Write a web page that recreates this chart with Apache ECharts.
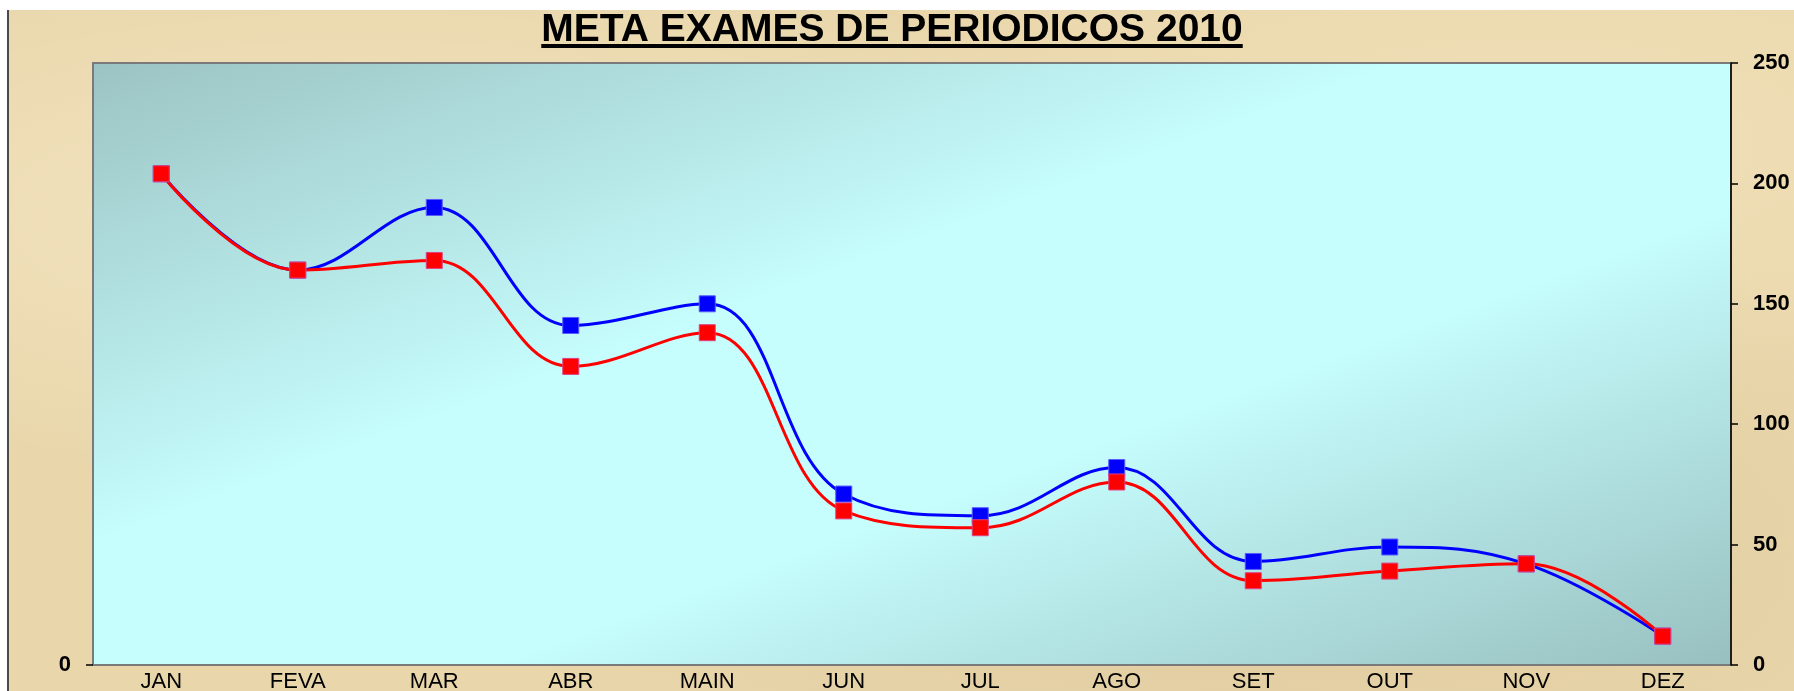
<!DOCTYPE html>
<html>
<head>
<meta charset="utf-8">
<script src="https://cdn.jsdelivr.net/npm/echarts@6/dist/echarts.min.js"></script>
<style>
	html, body { margin: 0; padding: 0; background: #ffffff; }
	#paper {
		position: absolute; left: 7px; top: 10px; right: 0; bottom: 0;
		border-left: 2px solid #4a4a4a;
		background: #e9d6ab;
		background-image:
			radial-gradient(ellipse at 20% 30%, rgba(255,245,215,0.45), rgba(255,245,215,0) 40%),
			radial-gradient(ellipse at 70% 80%, rgba(205,180,135,0.3), rgba(205,180,135,0) 45%),
			radial-gradient(ellipse at 85% 20%, rgba(250,235,200,0.45), rgba(250,235,200,0) 35%);
	}
	#chart { position: absolute; left: 0; top: 0; width: 1794px; height: 691px; }
</style>
</head>
<body>
<div id="paper"></div>
<div id="chart"></div>
<script>
var titleText = 'META EXAMES DE PERIODICOS 2010';
var months = ['JAN', 'FEVA', 'MAR', 'ABR', 'MAIN', 'JUN', 'JUL', 'AGO', 'SET', 'OUT', 'NOV', 'DEZ'];
var blueValues = [204, 164, 190, 141, 150, 71, 62, 82, 43, 49, 42, 12];
var redValues = [204, 164, 168, 124, 138, 64, 57, 76, 35, 39, 42, 12];
var rightTicks = [0, 50, 100, 150, 200, 250];
var leftTicks = [0];

var font = '"Liberation Sans", Arial, sans-serif';

function title_width() {
	var ctx = document.createElement('canvas').getContext('2d');
	ctx.font = 'bold 39px "Liberation Sans", Arial';
	return ctx.measureText(titleText).width;
}

function line_chart() {
	var chart = echarts.init(document.getElementById('chart'));
	var tw = title_width();
	// plot box is 1638 x 602; light band should run corner to corner (bottom-left -> top-right)
	var w = 1638, h = 602, s = w * w + h * h;
	chart.setOption({
		backgroundColor: 'transparent',
		animation: false,
		title: {
			text: titleText,
			left: 892,
			top: 11,
			textAlign: 'center',
			padding: 0,
			textStyle: {
				fontFamily: font,
				fontSize: 39,
				fontWeight: 'bold',
				color: '#000'
			}
		},
		graphic: [{
			type: 'rect',
			shape: { x: 892 - tw / 2, y: 44, width: tw, height: 4 },
			style: { fill: '#000' }
		}],
		grid: {
			left: 93,
			right: 63,
			top: 63,
			bottom: 26,
			outerBoundsMode: 'none',
			show: true,
			borderColor: '#7a7a7a',
			borderWidth: 2,
			backgroundColor: {
				type: 'linear',
				x: 0, y: 0, x2: 2 * h * h / s, y2: 2 * w * w / s,
				colorStops: [
					{ offset: 0, color: '#9cc3c3' },
					{ offset: 0.4, color: '#c6fdfd' },
					{ offset: 0.62, color: '#c6fdfd' },
					{ offset: 1, color: '#98bfbf' }
				]
			}
		},
		xAxis: {
			type: 'category',
			data: months,
			boundaryGap: true,
			axisLine: { show: false },
			axisTick: { show: false },
			axisLabel: {
				margin: 6,
				fontFamily: font,
				fontSize: 22,
				color: '#000'
			}
		},
		yAxis: [{
			type: 'value',
			position: 'right',
			min: 0,
			max: 250,
			interval: 50,
			splitLine: { show: false },
			axisLine: { show: true, lineStyle: { color: '#000', width: 1.5 } },
			axisTick: { show: true, length: 7, lineStyle: { color: '#000', width: 1.5 } },
			axisLabel: {
				margin: 22,
				fontFamily: font,
				fontSize: 22,
				fontWeight: 'bold',
				color: '#000',
				customValues: rightTicks
			}
		}, {
			type: 'value',
			position: 'left',
			min: 0,
			max: 250,
			interval: 50,
			splitLine: { show: false },
			axisLine: { show: false },
			axisTick: { show: true, length: 7, customValues: leftTicks, lineStyle: { color: '#000', width: 1.5 } },
			axisLabel: {
				margin: 22,
				fontFamily: font,
				fontSize: 22,
				fontWeight: 'bold',
				color: '#000',
				customValues: leftTicks
			}
		}],
		series: [{
			name: 'blue',
			type: 'line',
			yAxisIndex: 0,
			data: blueValues,
			smooth: 0.4,
			symbol: 'rect',
			symbolSize: 16,
			showAllSymbol: true,
			lineStyle: { color: '#0000ff', width: 3 },
			itemStyle: { color: '#0000ff', borderColor: '#5a5aff', borderWidth: 1 }
		}, {
			name: 'red',
			type: 'line',
			yAxisIndex: 0,
			data: redValues,
			smooth: 0.4,
			symbol: 'rect',
			symbolSize: 16,
			showAllSymbol: true,
			lineStyle: { color: '#ff0000', width: 3 },
			itemStyle: { color: '#ff0000', borderColor: '#e04080', borderWidth: 1 }
		}]
	});
}

line_chart();
</script>
</body>
</html>
